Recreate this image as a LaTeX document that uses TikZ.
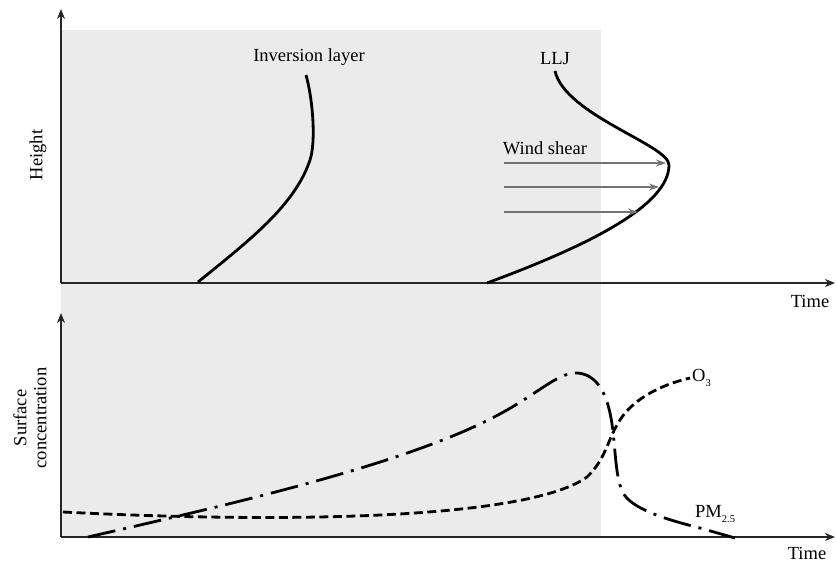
\documentclass[tikz,border=0pt]{standalone}
\usepackage{fontspec}
\setmainfont{Liberation Serif}
\usetikzlibrary{arrows.meta}
\begin{document}
\begin{tikzpicture}[x=1pt,y=-1pt,
  lab/.style={font=\fontsize{18.5}{20}\selectfont, inner sep=0pt},
  axis/.style={draw=black!85, line width=1.3pt, -{Stealth[length=10pt,width=8pt]}},
  curve/.style={line width=2.8pt},
  o3line/.style={curve, dash pattern=on 9pt off 4.5pt},
  pmline/.style={curve, dash pattern=on 28pt off 8pt on 3pt off 8pt},
  shear/.style={draw=black!55, line width=1.5pt, -{Stealth[length=10pt,width=7pt]}}]
\useasboundingbox (0,0) rectangle (836,565);
\fill[black!8] (61,30) rectangle (601,537);
% axes
\coordinate (o1) at (61,283);
\coordinate (yt1) at (61,9);
\coordinate (xe1) at (835,283);
\coordinate (o2) at (61,537);
\coordinate (yt2) at (61,313);
\coordinate (xe2) at (835,537);
\draw[axis] (o1) -- (yt1);
\draw[axis] (o1) -- (xe1);
\draw[axis] (o2) -- (yt2);
\draw[axis] (o2) -- (xe2);
% labels
\node[lab, rotate=90] (hgt) at (38,155) {Height};
\node[lab, rotate=90, align=center] (sc) at (30,418) {Surface\\concentration};
\node[lab] (t1) at (810,301) {Time};
\node[lab] (t2) at (807,553) {Time};
\node[lab] (inv) at (309,57) {Inversion layer};
\node[lab] (llj) at (555,59) {LLJ};
\node[lab] (ws) at (545,148) {Wind shear};
\node[lab, anchor=west] (o3) at (692,378) {O\raisebox{-5pt}{\fontsize{10.5}{10}\selectfont 3}};
\node[lab, anchor=west] (pm) at (695,514) {PM\raisebox{-5pt}{\fontsize{10.5}{10}\selectfont 2.5}};
% inversion layer
\draw[curve] (198,282) .. controls (250,240) and (295,205) .. (310,160)
  .. controls (316,142) and (313,100) .. (306,75);
% LLJ
\draw[curve] (487,283) .. controls (590,245) and (669,205) .. (669,165)
  .. controls (669,145) and (565,115) .. (555,71);
% wind shear arrows
\coordinate (a1s) at (504,163); \coordinate (a1e) at (666,163);
\coordinate (a2s) at (504,187); \coordinate (a2e) at (659,187);
\coordinate (a3s) at (504,212); \coordinate (a3e) at (638,212);
\draw[shear] (a1s) -- (a1e);
\draw[shear] (a2s) -- (a2e);
\draw[shear] (a3s) -- (a3e);
% O3
\draw[o3line] (63,512) .. controls (300,524) and (530,518) .. (587,477)
  .. controls (605,460) and (608,440) .. (617,425)
  .. controls (630,400) and (660,385) .. (690,378);
% PM2.5
\draw[pmline] (88,537) .. controls (250,500) and (420,460) .. (507,410)
  .. controls (542,390) and (560,372) .. (577,373)
  .. controls (595,374) and (605,390) .. (610,413)
  .. controls (616,440) and (614,475) .. (623,493)
  .. controls (632,508) and (660,518) .. (700,528) -- (735,538);
\end{tikzpicture}
\end{document}
